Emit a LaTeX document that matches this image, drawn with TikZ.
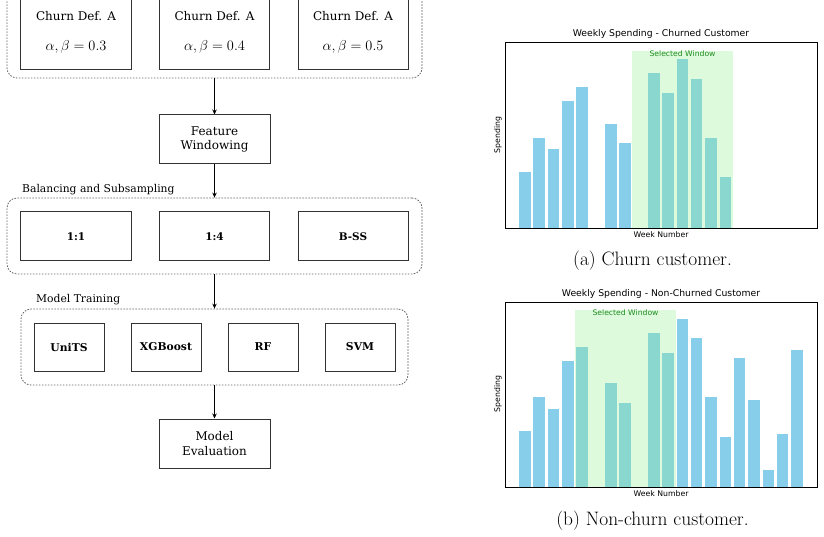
\documentclass[tikz,border=0pt]{standalone}
\usepackage{fontspec}
\usepackage{amsmath}
\usetikzlibrary{arrows.meta,positioning}
\newfontfamily\boxfont{DejaVu Serif}
\newfontfamily\plotfont{DejaVu Sans}
\definecolor{barblue}{HTML}{87CEEB}
\definecolor{wingreen}{HTML}{90EE90}
\definecolor{wintext}{HTML}{1E8C1E}
\definecolor{edgegray}{HTML}{333333}
\definecolor{dashgray}{HTML}{666666}

\begin{document}
\begin{tikzpicture}[x=1bp, y=-1bp,
    stagebox/.style={draw=edgegray, line width=1bp, minimum width=111bp, minimum height=49bp, align=center, inner sep=2bp, font=\boxfont\fontsize{12}{15}\selectfont},
    optbox/.style={draw=edgegray, line width=1bp, minimum width=110bp, minimum height=49bp, inner sep=2bp, font=\boxfont\bfseries\fontsize{10.5}{13}\selectfont},
    modelbox/.style={draw=edgegray, line width=1bp, minimum width=70bp, minimum height=48bp, inner sep=2bp, font=\boxfont\bfseries\fontsize{10.8}{13}\selectfont},
    groupbox/.style={draw=dashgray, line width=0.8bp, dash pattern=on 1.6bp off 1.4bp, rounded corners=10bp},
    grouplabel/.style={anchor=west, inner sep=0pt, font=\boxfont\fontsize{10.8}{13}\selectfont},
    flow/.style={-{Stealth[length=5bp, width=4.5bp]}, line width=1bp},
    plottitle/.style={inner sep=0pt, font=\plotfont\fontsize{9.3}{11}\selectfont},
    axislabel/.style={inner sep=0pt, font=\plotfont\fontsize{7.8}{9}\selectfont},
    winlabel/.style={inner sep=0pt, text=wintext, font=\plotfont\fontsize{7.7}{9}\selectfont},
    subcap/.style={inner sep=0pt, font=\fontsize{19.5}{22}\selectfont}]

    \clip (0,0) rectangle (824,537);

    % Churn definitions
    \node[groupbox, minimum width=415bp, minimum height=90bp] (defgroup) at (214.5,33) {};
    \foreach \x/\val/\name in {76/0.3/defA, 214.5/0.4/defB, 353/0.5/defC} {
        \node[stagebox, minimum width=110bp, minimum height=74bp, font=\boxfont\fontsize{12}{29.5}\selectfont] (\name) at (\x,32.5)
            {Churn Def. A\\{\fontsize{15}{29.5}\selectfont$\alpha, \beta = \val$}};
    }

    % Windowing
    \node[stagebox] (window) at (214.5,139.5) {Feature\\Windowing};

    % Balancing and subsampling
    \node[groupbox, minimum width=415bp, minimum height=76bp] (balgroup) at (214.5,236) {};
    \node[grouplabel] (ballabel) at (22,190) {Balancing and Subsampling};
    \node[optbox] (ratioA) at (76,236.5) {1:1};
    \node[optbox] (ratioB) at (214.5,236.5) {1:4};
    \node[optbox] (bss) at (353,236.5) {B-SS};

    % Models
    \node[groupbox, minimum width=387bp, minimum height=76bp] (modgroup) at (214.5,347) {};
    \node[grouplabel] (modlabel) at (36,300) {Model Training};
    \foreach \x/\lbl/\name in {69/UniTS/units, 166/XGBoost/xgb, 263/RF/rf, 360/SVM/svm} {
        \node[modelbox] (\name) at (\x,347) {\lbl};
    }

    % Evaluation
    \node[stagebox] (evalbox) at (214.5,443.5) {Model\\Evaluation};

    % Flow arrows
    \draw[flow] (defgroup.south) -- (window.north);
    \draw[flow] (window.south) -- (balgroup.north);
    \draw[flow] (balgroup.south) -- (modgroup.north);
    \draw[flow] (modgroup.south) -- (evalbox.north);

    % Plot (a): churned customer
    \foreach \i/\h in {0/56, 1/90, 2/79, 3/127, 4/141, 6/104, 7/85, 9/155, 10/135, 11/169, 12/149, 13/90, 14/51} {
        \fill[barblue] ({519.17+14.32*\i},228) rectangle ++(11.46,-\h);
    }
    \fill[wingreen, fill opacity=0.3] (632,228) rectangle (733,51);
    \node[winlabel] (winA) at (682.5,53.5) {Selected Window};
    \draw[line width=0.8bp] (505,42) rectangle (817,228);
    \node[plottitle] (titleA) at (661,34) {Weekly Spending - Churned Customer};
    \node[axislabel] (xlabA) at (661,234.5) {Week Number};
    \node[axislabel, rotate=90] (ylabA) at (498,135) {Spending};
    \node[subcap] (capA) at (652.5,261) {(a) Churn customer.};

    % Plot (b): non-churned customer
    \foreach \i/\h in {0/56, 1/90, 2/78, 3/126, 4/140, 6/104, 7/84, 9/154, 10/134, 11/168, 12/149, 13/90, 14/50, 15/129, 16/87, 17/17, 18/53, 19/137} {
        \fill[barblue] ({519.17+14.32*\i},487) rectangle ++(11.46,-\h);
    }
    \fill[wingreen, fill opacity=0.3] (575,487) rectangle (676,310);
    \node[winlabel] (winB) at (625.5,312.5) {Selected Window};
    \draw[line width=0.8bp] (505,302) rectangle (817,487);
    \node[plottitle] (titleB) at (661,294) {Weekly Spending - Non-Churned Customer};
    \node[axislabel] (xlabB) at (661,493.5) {Week Number};
    \node[axislabel, rotate=90] (ylabB) at (498,394) {Spending};
    \node[subcap] (capB) at (652.5,521) {(b) Non-churn customer.};
\end{tikzpicture}
\end{document}
